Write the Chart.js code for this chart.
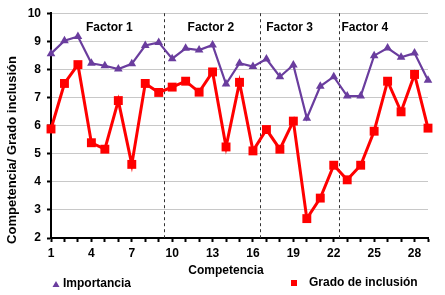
<!DOCTYPE html>
<html>
<head>
<meta charset="utf-8">
<script src="https://cdn.jsdelivr.net/npm/chart.js@4.4.1/dist/chart.umd.min.js"></script>
<style>
  html, body { margin: 0; padding: 0; background: #fff; }
  #wrap { width: 445px; height: 295px; position: relative; }
</style>
</head>
<body>
<div id="wrap"><canvas id="grafico"></canvas></div>
<script>
// Datos
const competencias = [1, 2, 3, 4, 5, 6, 7, 8, 9, 10, 11, 12, 13, 14, 15, 16, 17, 18, 19, 20, 21, 22, 23, 24, 25, 26, 27, 28, 29];
const importancia = [8.56, 9.02, 9.17, 8.22, 8.13, 8.01, 8.2, 8.85, 8.96, 8.38, 8.75, 8.69, 8.87, 7.48, 8.22, 8.1, 8.37, 7.74, 8.16, 6.26, 7.4, 7.74, 7.05, 7.05, 8.49, 8.76, 8.43, 8.58, 7.61];
const gradoInclusion = [5.88, 7.5, 8.17, 5.39, 5.16, 6.89, 4.62, 7.5, 7.18, 7.37, 7.58, 7.19, 7.91, 5.24, 7.54, 5.1, 5.86, 5.16, 6.16, 2.69, 3.42, 4.59, 4.07, 4.59, 5.8, 7.58, 6.49, 7.82, 5.91];
const factores = ['Factor 1', 'Factor 2', 'Factor 3', 'Factor 4'];
const nombresSeries = ['Importancia', 'Grado de inclusión'];

const MORADO = '#6a3d9e';
const ROJO = '#ff0000';
const FUENTE = "'Liberation Sans', Arial, sans-serif";

// Separadores de factores y títulos, dibujados con las escalas
const extras = {
  id: 'extras',
  beforeDatasetsDraw(chart) {
    const { ctx, chartArea, scales: { x, y } } = chart;
    const cortes = [9.4, 16.5, 22.4];
    const centros = [5.33, 12.88, 18.72, 24.3];

    ctx.save();
    ctx.strokeStyle = '#333';
    ctx.lineWidth = 1;
    ctx.setLineDash([3, 3]);
    cortes.forEach(c => {
      const px = Math.round(x.getPixelForValue(c)) + 0.5;
      ctx.beginPath();
      ctx.moveTo(px, chartArea.top);
      ctx.lineTo(px, chartArea.bottom);
      ctx.stroke();
    });
    ctx.setLineDash([]);

    ctx.fillStyle = '#000';
    ctx.font = 'bold 12px ' + FUENTE;
    ctx.textAlign = 'center';
    ctx.textBaseline = 'middle';
    factores.forEach((f, i) => {
      ctx.fillText(f, x.getPixelForValue(centros[i]), y.getPixelForValue(9.5));
    });
    ctx.restore();
  },
  afterDraw(chart) {
    const { ctx } = chart;
    ctx.save();
    ctx.fillStyle = '#000';
    ctx.textBaseline = 'middle';

    // título eje x
    ctx.font = 'bold 12px ' + FUENTE;
    ctx.textAlign = 'center';
    ctx.fillText('Competencia', 226, 271);

    // título eje y
    ctx.save();
    ctx.translate(12, 150);
    ctx.rotate(-Math.PI / 2);
    ctx.font = 'bold 13px ' + FUENTE;
    ctx.fillText('Competencia/ Grado inclusión', 0, 0);
    ctx.restore();

    // leyenda
    ctx.textAlign = 'left';
    ctx.font = 'bold 12px ' + FUENTE;
    ctx.fillStyle = MORADO;
    ctx.beginPath();
    ctx.moveTo(56, 281);
    ctx.lineTo(59.5, 287);
    ctx.lineTo(52.5, 287);
    ctx.closePath();
    ctx.fill();
    ctx.fillStyle = ROJO;
    ctx.fillRect(291, 280, 6, 6);
    ctx.fillStyle = '#000';
    ctx.fillText(nombresSeries[0], 63, 284);
    ctx.fillText(nombresSeries[1], 309, 283);
    ctx.restore();
  }
};

new Chart(document.getElementById('grafico'), {
  type: 'line',
  data: {
    datasets: [
      {
        label: nombresSeries[0],
        data: competencias.map((c, i) => ({ x: c, y: importancia[i] })),
        borderColor: MORADO,
        backgroundColor: MORADO,
        borderWidth: 2.2,
        pointStyle: 'triangle',
        pointRadius: 5,
        pointBorderWidth: 0,
        tension: 0,
        clip: false
      },
      {
        label: nombresSeries[1],
        data: competencias.map((c, i) => ({ x: c, y: gradoInclusion[i] })),
        borderColor: ROJO,
        backgroundColor: ROJO,
        borderWidth: 3,
        pointStyle: 'rect',
        pointRadius: 6.3,
        pointBorderWidth: 0,
        tension: 0,
        clip: false
      }
    ]
  },
  options: {
    responsive: true,
    maintainAspectRatio: false,
    animation: false,
    layout: { padding: { top: 12, right: 17, left: 0, bottom: 0 } },
    plugins: {
      legend: { display: false },
      tooltip: { enabled: false }
    },
    scales: {
      x: {
        type: 'linear',
        min: 1,
        max: 29,
        afterFit: s => { s.height = 57; },
        border: { color: '#000', width: 2 },
        grid: { drawOnChartArea: false, drawTicks: true, tickLength: 4, tickColor: '#000', tickWidth: 2 },
        ticks: {
          stepSize: 1,
          autoSkip: false,
          maxRotation: 0,
          padding: 4,
          color: '#000',
          font: { family: FUENTE, size: 12, weight: 'bold' },
          callback: v => ((v - 1) % 3 === 0 ? v : '')
        }
      },
      y: {
        min: 2,
        max: 10,
        afterFit: s => { s.width = 51; },
        border: { color: '#000', width: 2 },
        grid: { color: '#c8c8c8', lineWidth: 1, tickLength: 4, tickColor: '#000', tickWidth: 2 },
        ticks: {
          stepSize: 1,
          padding: 6,
          color: '#000',
          font: { family: FUENTE, size: 12, weight: 'bold' }
        }
      }
    }
  },
  plugins: [extras]
});
</script>
</body>
</html>
